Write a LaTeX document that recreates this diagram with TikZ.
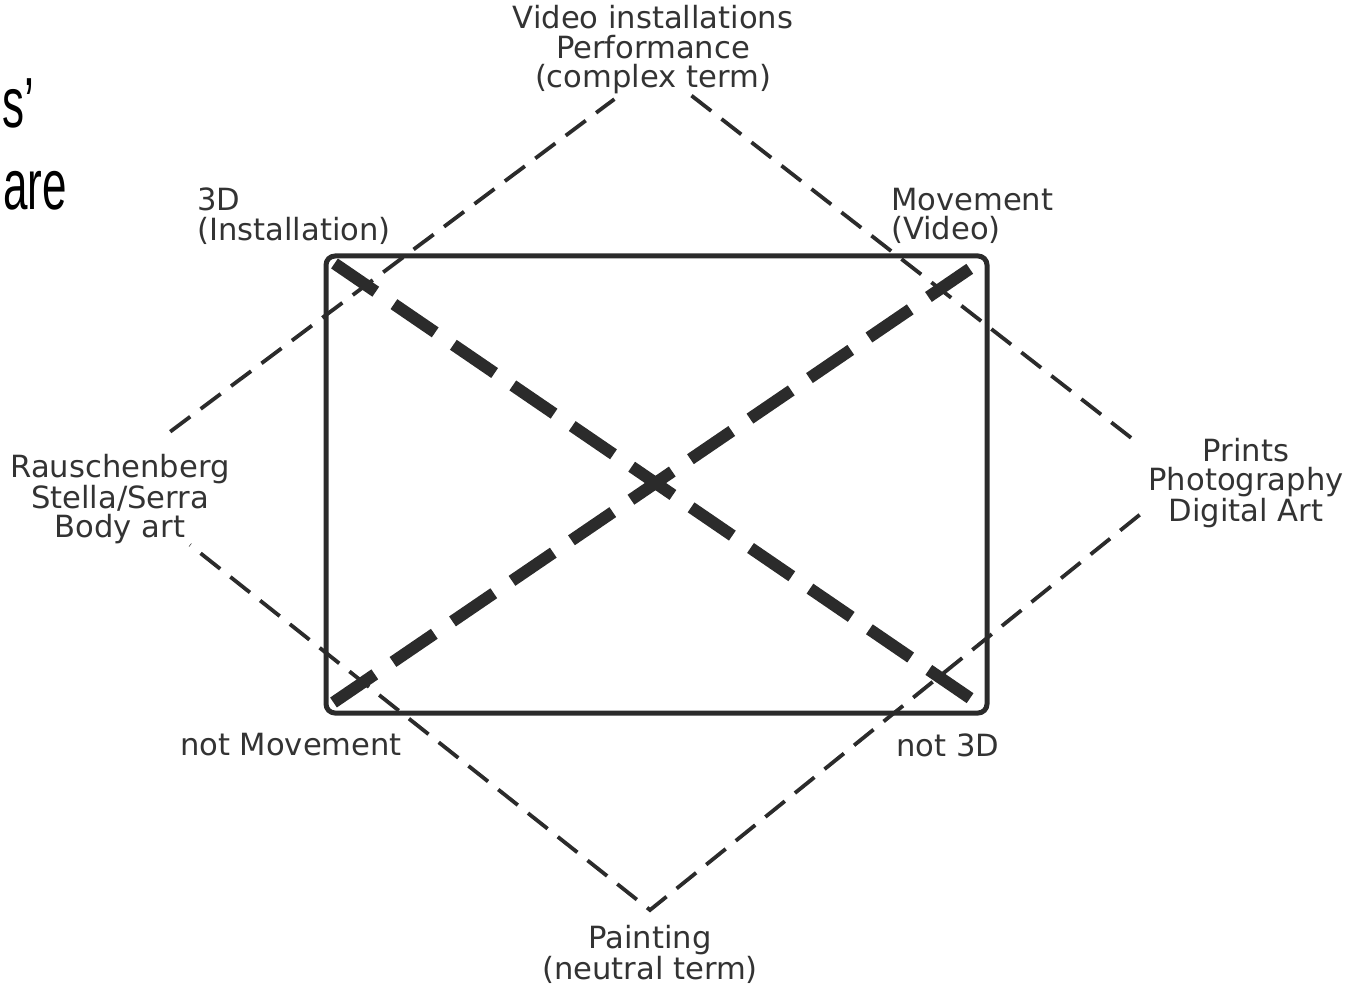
\documentclass[tikz,border=0pt]{standalone}
\usepackage{fontspec}
\setmainfont{DejaVu Sans}
\newfontfamily\slidefont[FakeStretch=0.62]{Liberation Sans}
\usetikzlibrary{positioning, calc}
\definecolor{linegrey}{HTML}{2B2B2B}
\definecolor{textgrey}{HTML}{333333}

\begin{document}
\begin{tikzpicture}[x=1pt, y=-1pt,
    term/.style={align=center, text=textgrey, inner sep=2pt, font=\fontsize{30.6}{29.5}\selectfont},
    thinrel/.style={draw=linegrey, line width=3.8pt, dash pattern=on 25pt off 13pt},
    thickrel/.style={draw=linegrey, line width=12pt, dash pattern=on 50pt off 22pt}]
    \useasboundingbox (0,0) rectangle (1362,984);

    % leftovers of the slide title
    \node[anchor=base east, inner sep=0, font=\slidefont\fontsize{71}{82}\selectfont] (slidea) at (34,128) {s’};
    \node[anchor=base east, inner sep=0, font=\slidefont\fontsize{71}{82}\selectfont] (slideb) at (67,210) {are};

    % square of opposition
    \coordinate (vtop) at (656,68);
    \coordinate (vleft) at (107,479);
    \coordinate (vbot) at (650,910);
    \coordinate (vright) at (1184,479);

    \node[draw=linegrey, line width=5pt, rounded corners=9pt, minimum width=661pt, minimum height=457pt, inner sep=0]  (frame) at (656.5,484.5) {};
    \coordinate (tl) at ($(frame.north west)+(11,10)$);
    \coordinate (tr) at ($(frame.north east)+(-12,10)$);
    \coordinate (bl) at ($(frame.south west)+(10,-13)$);
    \coordinate (br) at ($(frame.south east)+(-16,-15)$);

    \node[term]  (complex)  at (653,50) {Video installations\\Performance\\(complex term)};
    \node[term, align=left, anchor=west]  (threed)  at (195,216) {3D\\(Installation)};
    \node[term, align=left, anchor=west]  (movement)  at (889,216) {Movement\\(Video)};
    \node[term]  (mixed)  at (120,499) {Rauschenberg\\Stella/Serra\\Body art};
    \node[term]  (prints)  at (1246,483) {Prints\\Photography\\Digital Art};
    \node[term]  (notmove)  at (291,745) {not Movement};
    \node[term]  (notthreed)  at (948,745) {not 3D};
    \node[term, below=13pt of vbot]  (neutral)  {Painting\\(neutral term)};

    \draw[thinrel, shorten <=79pt, shorten >=52pt] (vleft) -- (vtop);
    \draw[thinrel, shorten <=45pt, shorten >=56pt] (vtop) -- (vright);
    \draw[thinrel, shorten <=57pt, shorten >=106pt] (vright) -- (vbot) -- (vleft);

    \draw[thickrel] (tl) -- (br);
    \draw[thickrel] (bl) -- (tr);
\end{tikzpicture}
\end{document}
